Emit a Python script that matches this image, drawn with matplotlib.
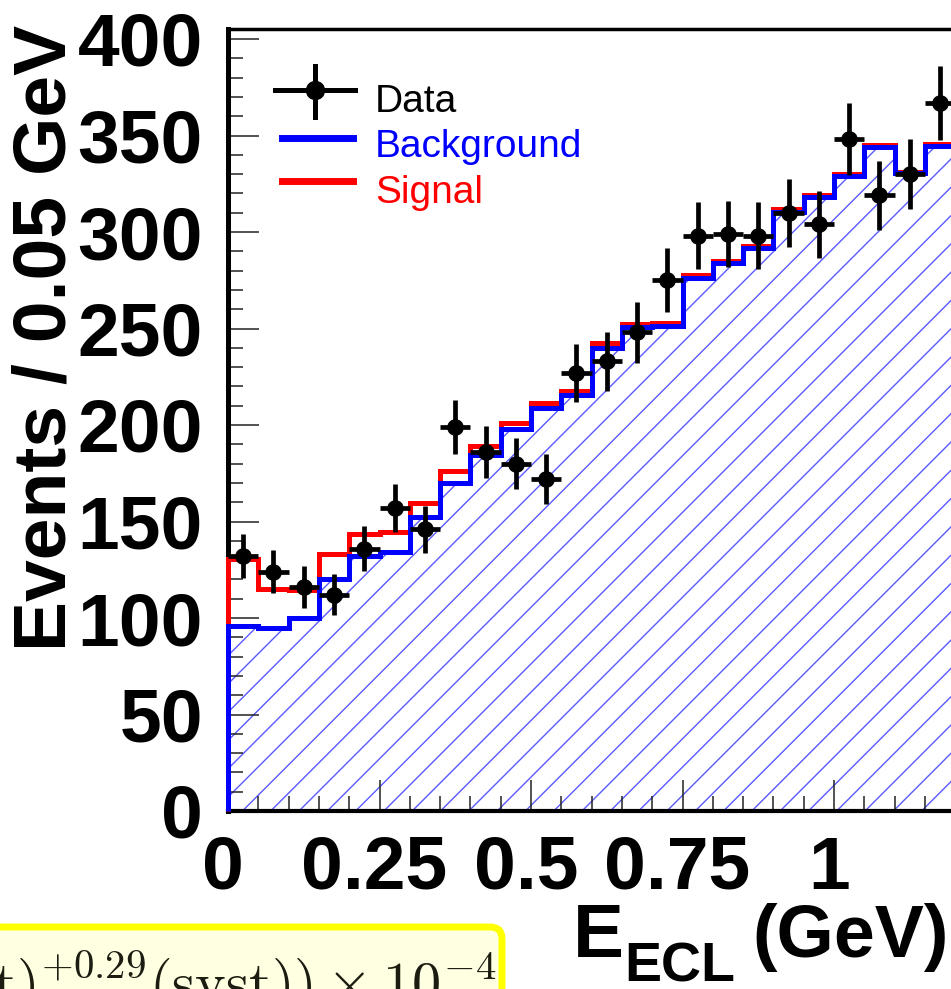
import numpy as np
import matplotlib
matplotlib.use("Agg")
import matplotlib.pyplot as plt
from matplotlib.patches import Polygon, FancyBboxPatch
from matplotlib.collections import LineCollection
from matplotlib.lines import Line2D
from matplotlib.ticker import MultipleLocator
import matplotlib.transforms as mtransforms

# ---------------- data ----------------
bin_edges = [0.00, 0.05, 0.10, 0.15, 0.20, 0.25, 0.30, 0.35, 0.40, 0.45, 0.50, 0.55,
             0.60, 0.65, 0.70, 0.75, 0.80, 0.85, 0.90, 0.95, 1.00, 1.05, 1.10, 1.15, 1.20]
bin_centers = [0.025, 0.075, 0.125, 0.175, 0.225, 0.275, 0.325, 0.375, 0.425, 0.475,
               0.525, 0.575, 0.625, 0.675, 0.725, 0.775, 0.825, 0.875, 0.925, 0.975,
               1.025, 1.075, 1.125, 1.175]
data_counts = [132, 124, 116, 112, 136, 157, 146, 199, 186, 180, 172, 227,
               233, 248, 275, 298, 299, 298, 310, 304, 348, 319, 330, 367]
data_errors = [11.5, 11.1, 10.8, 10.6, 11.7, 12.5, 12.1, 14.1, 13.6, 13.4, 13.1, 15.1,
               15.3, 15.7, 16.6, 17.3, 17.3, 17.3, 17.6, 17.4, 18.7, 17.9, 18.2, 19.2]
data_xerr = [0.025] * 24
background = [96, 95, 100, 120, 132, 134, 152.5, 170, 184.5, 198, 209, 215.5,
              240, 251, 251.5, 276, 284, 291.5, 310.5, 318, 329, 344, 330.5, 344.5]
signal_plus_bkg = [130.5, 115, 114.5, 133, 143.5, 144.5, 159.5, 176, 189, 201, 211.6, 217.6,
                   242.5, 252.2, 253, 277.7, 285, 292.7, 312, 319.2, 330, 345.1, 331.2, 345.6]

x_ticks = [0, 0.25, 0.5, 0.75, 1.0]
x_tick_labels = ["0", "0.25", "0.5", "0.75", "1"]
y_ticks = [0, 50, 100, 150, 200, 250, 300, 350, 400]
y_tick_labels = ["0", "50", "100", "150", "200", "250", "300", "350", "400"]

legend_labels = ["Data", "Background", "Signal"]
result_text = r"$(\mathrm{stat})^{+0.29}_{-0.21}(\mathrm{syst}))\times 10^{-4}$"

# ---------------- figure ----------------
plt.rcParams["font.family"] = ["Liberation Sans", "DejaVu Sans"]
W, H = 951, 989
fig = plt.figure(figsize=(W / 100, H / 100), dpi=100)


def fx(x):
    return x / W


def fy(y):
    return (H - y) / H


px_per_gev = 606.0
px_per_unit = 1.93
x0_px, y0_px = 228, 811
xmax, ymax = 1.25, 405
ax = fig.add_axes([fx(x0_px), fy(y0_px), xmax * px_per_gev / W, ymax * px_per_unit / H])
ax.set_xlim(0, xmax)
ax.set_ylim(0, ymax)

# hatch under background
verts = [(bin_edges[0], 0)]
for i, b in enumerate(background):
    verts.append((bin_edges[i], b))
    verts.append((bin_edges[i + 1], b))
verts.append((bin_edges[-1], 0))
poly = Polygon(verts, closed=True, facecolor="none", edgecolor="none")
ax.add_patch(poly)

inv = ax.transData.inverted()
segs = []
spacing = 28.3
for k in range(-40, 40):
    xb = 242.4 + spacing * k          # image x at bottom of axes
    p1 = (xb, H - y0_px)              # display coords
    p2 = (xb + y0_px, H)              # 45 degrees up to top of figure
    segs.append(inv.transform([p1, p2]))
lc = LineCollection(segs, colors="#5a5aff", linewidths=1.0, zorder=1)
ax.add_collection(lc)
lc.set_clip_path(poly)

# histograms
ax.stairs(signal_plus_bkg, bin_edges, baseline=0, color="#ff0000", linewidth=3.6,
          zorder=3, clip_on=False)
ax.stairs(background, bin_edges, baseline=0, color="#0000ff", linewidth=3.6,
          zorder=3.5, clip_on=False)

# data
ax.errorbar(bin_centers, data_counts, xerr=data_xerr, yerr=data_errors, fmt="o",
            color="black", markersize=11, elinewidth=3.4, capsize=0, zorder=5)

# axes styling
ax.spines["right"].set_visible(False)
ax.spines["left"].set_linewidth(3.6)
ax.spines["bottom"].set_linewidth(3.0)
ax.spines["top"].set_linewidth(2.5)

ax.set_xticks(x_ticks)
ax.set_xticklabels(x_tick_labels)
ax.set_yticks(y_ticks)
ax.set_yticklabels(y_tick_labels)
ax.xaxis.set_minor_locator(MultipleLocator(0.05))
ax.yaxis.set_minor_locator(MultipleLocator(10))
ax.tick_params(axis="both", which="major", direction="in", length=22, width=1.1,
               color="#222222", top=False, right=False)
ax.tick_params(axis="both", which="minor", direction="in", length=11, width=1.1,
               color="#222222", top=False, right=False)
ax.tick_params(axis="x", which="major", pad=17, labelsize=54)
ax.tick_params(axis="y", which="major", pad=18, labelsize=54)
for lbl in ax.get_xticklabels() + ax.get_yticklabels():
    lbl.set_fontweight("bold")
offset = mtransforms.ScaledTranslation(-5 / 100, 0, fig.dpi_scale_trans)
for lbl in ax.get_xticklabels():
    lbl.set_transform(lbl.get_transform() + offset)

# axis titles
fig.text(fx(46), fy(338), "Events / 0.05 GeV", rotation=90, ha="center", va="center",
         fontsize=54, fontweight="bold")
fig.text(fx(573), fy(957), "E", ha="left", va="baseline", fontsize=55, fontweight="bold")
fig.text(fx(624), fy(982), "ECL", ha="left", va="baseline", fontsize=40, fontweight="bold")
fig.text(fx(752), fy(957), "(GeV)", ha="left", va="baseline", fontsize=53, fontweight="bold")

# legend (drawn by hand)
fig.add_artist(Line2D([fx(275), fx(355)], [fy(90), fy(90)], color="black", lw=3.6,
                      transform=fig.transFigure))
fig.add_artist(Line2D([fx(315), fx(315)], [fy(66), fy(117)], color="black", lw=3.6,
                      transform=fig.transFigure))
fig.add_artist(Line2D([fx(315)], [fy(90)], color="black", marker="o", markersize=13,
                      transform=fig.transFigure))
fig.add_artist(Line2D([fx(282), fx(353)], [fy(138), fy(138)], color="#0000ff", lw=5,
                      transform=fig.transFigure))
fig.add_artist(Line2D([fx(282), fx(353)], [fy(181), fy(181)], color="#ff0000", lw=5,
                      transform=fig.transFigure))
leg_colors = ["black", "#0000ff", "#ff0000"]
leg_base = [112, 157, 203]
for lab, c, yb in zip(legend_labels, leg_colors, leg_base):
    fig.text(fx(375), fy(yb), lab, color=c, ha="left", va="baseline", fontsize=28,
             fontweight="normal")

# yellow result box (cropped at the figure edges, as in the reference)
ident = mtransforms.IdentityTransform()
box = FancyBboxPatch((-40, -40), 542, (H - 927) + 40,
                     boxstyle="round,pad=0,rounding_size=12",
                     facecolor="#ffffe2", edgecolor="#ffff00", linewidth=5,
                     transform=ident, zorder=10)
fig.add_artist(box)
fig.text(496, H - 1002, result_text, transform=ident, ha="right", va="baseline",
         fontsize=42, color="#1c1c10", math_fontfamily="cm", zorder=11)

fig.savefig("out.png", dpi=100)
